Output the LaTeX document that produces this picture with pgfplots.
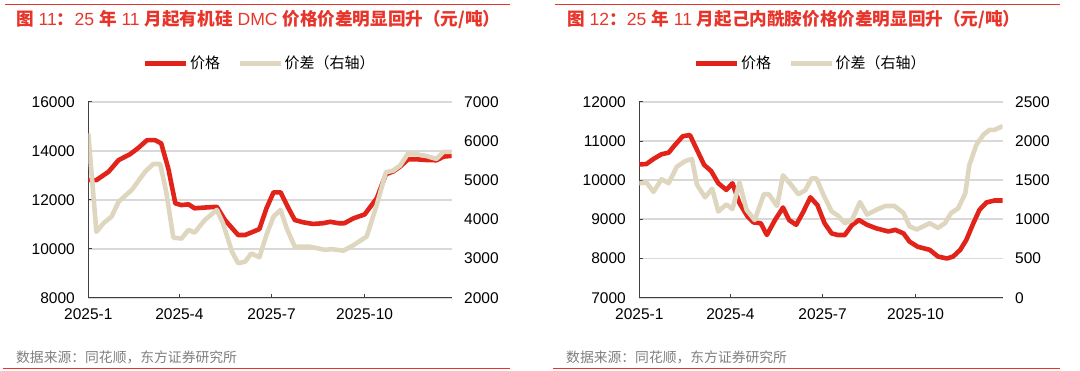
\documentclass[border=0pt]{standalone}
\usepackage{pgfplots}
\pgfplotsset{compat=1.18}
\usepackage{fontspec}
\setmainfont{Liberation Sans}
\newfontfamily\cjk{Noto Sans CJK SC}
\definecolor{sred}{HTML}{E2231A}
\definecolor{sbeige}{HTML}{DFD6BF}
\definecolor{tred}{HTML}{E8352B}
\definecolor{gridc}{HTML}{D9D9D9}
\definecolor{axc}{HTML}{404040}
\definecolor{srcc}{HTML}{7F7F7F}
\newcommand\zh[1]{{\cjk\bfseries #1}}

\pgfplotstableread{
d v
0 12800
8 12800
20 13140
30 13620
41 13850
49 14100
58 14430
66 14430
72 14300
79 13280
86 11850
92 11780
99 11810
105 11650
115 11680
127 11710
135 11170
148 10560
155 10560
169 10800
176 11650
183 12300
190 12300
197 11710
204 11170
212 11080
222 11010
232 11040
239 11100
247 11040
253 11040
262 11240
273 11400
285 12060
294 13040
301 13150
308 13350
316 13650
324 13650
334 13620
344 13610
351 13760
359 13790
}\priceA

\pgfplotstableread{
d v
0 6190
8 3680
15 3900
23 4070
30 4450
43 4750
56 5210
64 5410
71 5410
77 4700
84 3530
92 3510
99 3730
105 3660
115 3980
127 4240
133 3900
142 3170
148 2880
155 2920
161 3130
169 3030
176 3600
183 4070
190 4240
196 3770
204 3300
219 3300
234 3220
240 3240
252 3200
262 3340
275 3560
285 4370
294 5200
301 5240
308 5370
316 5680
324 5660
334 5615
344 5540
351 5720
359 5720
}\spreadA

\pgfplotstableread{
d v
0 10400
7 10410
14 10540
22 10660
29 10700
35 10890
43 11120
50 11150
57 10770
64 10390
71 10230
78 9920
86 9750
92 9920
99 9410
107 9070
113 8920
120 8900
126 8600
134 8980
142 9300
148 8980
155 8860
162 9190
169 9560
176 9360
183 8900
190 8640
196 8600
203 8600
210 8850
217 8980
225 8860
234 8770
246 8690
253 8730
261 8640
267 8430
275 8300
287 8220
295 8050
304 8000
310 8050
317 8220
323 8470
330 8900
336 9240
343 9430
351 9480
359 9480
}\priceB

\pgfplotstableread{
d v
0 1460
7 1470
14 1350
22 1510
29 1460
37 1670
45 1740
52 1770
57 1440
65 1280
72 1390
78 1100
86 1190
92 1130
99 1470
106 1120
114 990
123 1320
128 1320
136 1170
142 1560
150 1440
157 1320
164 1370
170 1520
175 1520
182 1310
190 1100
196 1050
203 950
210 990
218 1220
225 1060
234 1120
243 1170
252 1170
261 1080
267 910
274 870
287 950
295 890
302 950
308 1080
315 1140
322 1330
326 1690
333 1950
340 2080
346 2140
351 2140
359 2190
}\spreadB

\pgfplotsset{
  base/.style={scale only axis, width=363.4bp, height=196bp, xmin=0, xmax=359, anchor=south west,
    scaled y ticks=false, scaled x ticks=false,
    /pgf/number format/assume math mode=true, /pgf/number format/1000 sep={},
    tick label style={font=\fontsize{15.5bp}{18bp}\selectfont, text=black}},
  main/.style={base, axis x line*=bottom, axis y line*=left,
    axis line style={-, draw=axc, line width=0.8bp},
    xtick={0,90,181,273}, xticklabels={2025-1,2025-4,2025-7,2025-10},
    tick align=inside, major tick length=4bp, tick style={draw=axc, line width=0.8bp},
    ymajorgrids, major grid style={draw=gridc, line width=1.8bp},
    xticklabel style={yshift=-7bp}, yticklabel style={xshift=-10bp}},
  twin/.style={base, axis x line=none, axis y line*=right, axis line style={draw=none},
    major tick length=0pt, yticklabel style={xshift=9bp},
    legend columns=2,
    legend style={at={(0.15,1.196)}, anchor=west, draw=none, fill=none, inner sep=0pt,
      font=\fontsize{15bp}{18bp}\selectfont\cjk, nodes={inner sep=1.5bp},
      /tikz/every even column/.append style={column sep=16bp}},
    legend image code/.code={\draw[#1] (0bp,0bp) -- (41bp,0bp);}},
  pline/.style={sred, line width=4.6bp, line join=round},
  sline/.style={sbeige, line width=4.6bp, line join=round}
}

\begin{document}
\begin{tikzpicture}
\useasboundingbox (0,0) rectangle (1080bp,371bp);
% decorations
\draw[tred, line width=1.5bp] (5bp,366.3bp) -- (510bp,366.3bp);
\draw[tred, line width=1.5bp] (3bp,2.7bp) -- (510bp,2.7bp);
\draw[tred, line width=1.5bp] (555bp,366.3bp) -- (1060bp,366.3bp);
\draw[tred, line width=1.5bp] (553bp,2.7bp) -- (1060bp,2.7bp);
\node[anchor=west, inner sep=0pt, text=tred, font=\fontsize{17.6bp}{20bp}\selectfont] at (16bp,351.7bp)
  {\zh{图} 11\zh{：}25 \zh{年} 11 \zh{月起有机硅} DMC \zh{价格价差明显回升（元/吨）}};
\node[anchor=west, inner sep=0pt, text=tred, font=\fontsize{17.6bp}{20bp}\selectfont] at (567bp,351.7bp)
  {\zh{图} 12\zh{：}25 \zh{年} 11 \zh{月起己内酰胺价格价差明显回升（元/吨）}};
\node[anchor=west, inner sep=0pt, text=srcc, font=\fontsize{13.8bp}{16bp}\selectfont\cjk] at (16bp,14bp)
  {数据来源：同花顺，东方证券研究所};
\node[anchor=west, inner sep=0pt, text=srcc, font=\fontsize{13.8bp}{16bp}\selectfont\cjk] at (566bp,14bp)
  {数据来源：同花顺，东方证券研究所};

% panel 1
\begin{axis}[main, at={(88.3bp,73.3bp)}, ymin=8000, ymax=16000, ytick={8000,10000,12000,14000,16000}]
\addplot[pline] table[x=d, y=v] {\priceA};
\end{axis}
\begin{axis}[twin, at={(88.3bp,73.3bp)}, ymin=2000, ymax=7000, ytick={2000,3000,4000,5000,6000,7000}]
\addlegendimage{pline}
\addlegendentry{价格}
\addplot[sline] table[x=d, y=v] {\spreadA};
\addlegendentry{价差（右轴）}
\end{axis}

% panel 2
\begin{axis}[main, at={(639.3bp,73.3bp)}, ymin=7000, ymax=12000, ytick={7000,8000,9000,10000,11000,12000}]
\addplot[pline] table[x=d, y=v] {\priceB};
\end{axis}
\begin{axis}[twin, at={(639.3bp,73.3bp)}, ymin=0, ymax=2500, ytick={0,500,1000,1500,2000,2500}]
\addlegendimage{pline}
\addlegendentry{价格}
\addplot[sline] table[x=d, y=v] {\spreadB};
\addlegendentry{价差（右轴）}
\end{axis}
\end{tikzpicture}
\end{document}
